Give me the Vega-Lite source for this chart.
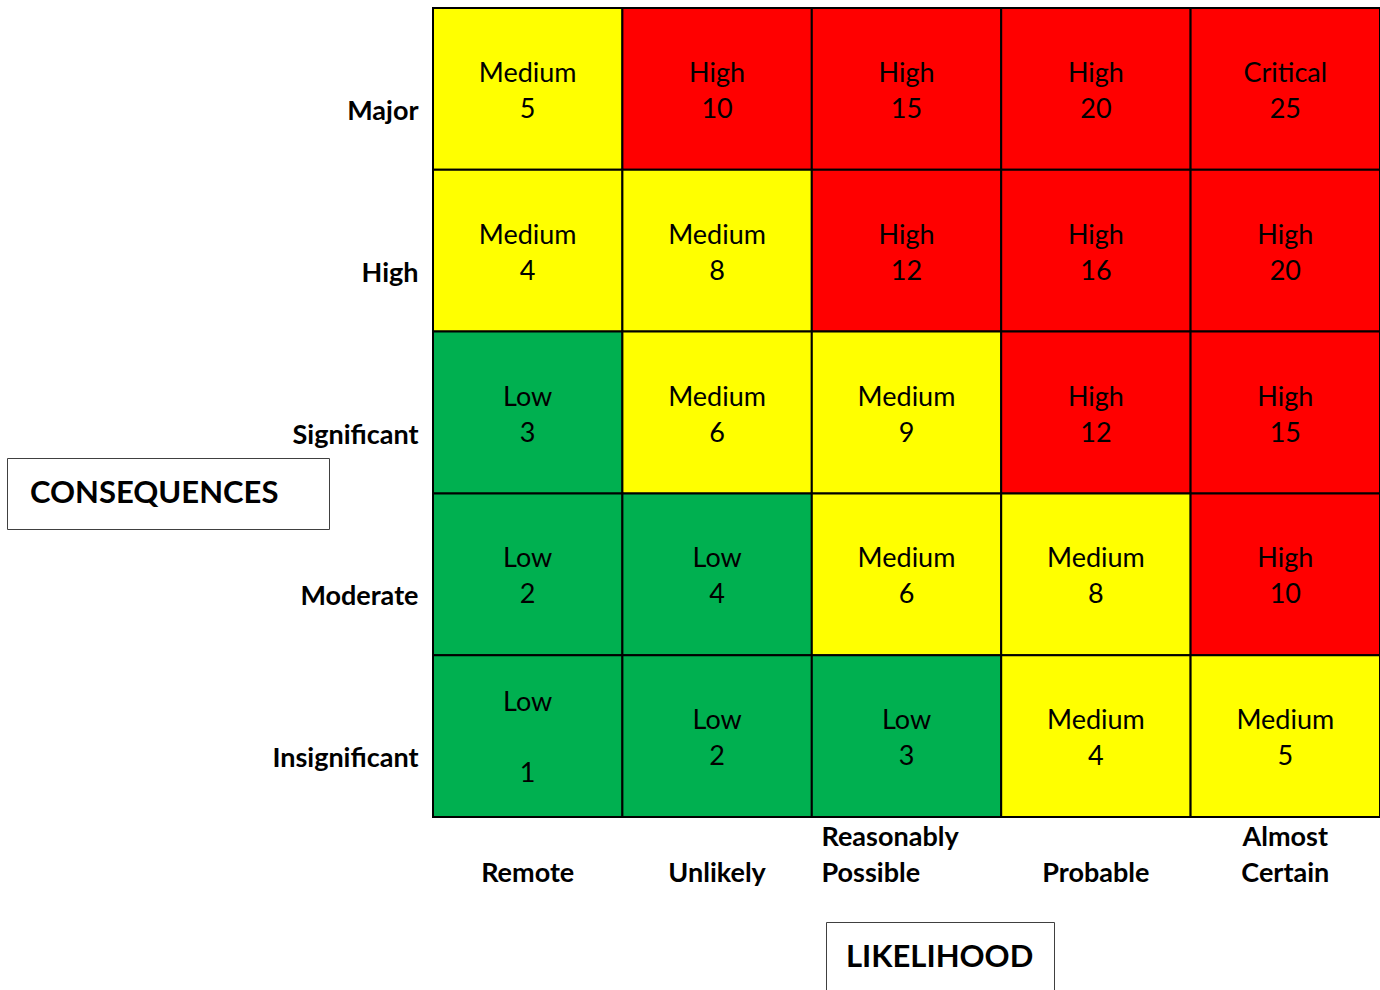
{
  "$schema": "https://vega.github.io/schema/vega-lite/v6.json",
  "width": 947,
  "height": 809,
  "autosize": {"type": "none"},
  "padding": {"left": 433, "top": 8, "right": 0, "bottom": 173},
  "background": "white",
  "config": {"view": {"stroke": null}, "font": "Lato"},
  "data": {
    "values": [
      {"likelihood": "Remote", "consequence": "Major", "level": "Medium", "label": "Medium\n5"},
      {"likelihood": "Unlikely", "consequence": "Major", "level": "High", "label": "High\n10"},
      {"likelihood": "Reasonably Possible", "consequence": "Major", "level": "High", "label": "High\n15"},
      {"likelihood": "Probable", "consequence": "Major", "level": "High", "label": "High\n20"},
      {"likelihood": "Almost Certain", "consequence": "Major", "level": "Critical", "label": "Critical\n25"},
      {"likelihood": "Remote", "consequence": "High", "level": "Medium", "label": "Medium\n4"},
      {"likelihood": "Unlikely", "consequence": "High", "level": "Medium", "label": "Medium\n8"},
      {"likelihood": "Reasonably Possible", "consequence": "High", "level": "High", "label": "High\n12"},
      {"likelihood": "Probable", "consequence": "High", "level": "High", "label": "High\n16"},
      {"likelihood": "Almost Certain", "consequence": "High", "level": "High", "label": "High\n20"},
      {"likelihood": "Remote", "consequence": "Significant", "level": "Low", "label": "Low\n3"},
      {"likelihood": "Unlikely", "consequence": "Significant", "level": "Medium", "label": "Medium\n6"},
      {"likelihood": "Reasonably Possible", "consequence": "Significant", "level": "Medium", "label": "Medium\n9"},
      {"likelihood": "Probable", "consequence": "Significant", "level": "High", "label": "High\n12"},
      {"likelihood": "Almost Certain", "consequence": "Significant", "level": "High", "label": "High\n15"},
      {"likelihood": "Remote", "consequence": "Moderate", "level": "Low", "label": "Low\n2"},
      {"likelihood": "Unlikely", "consequence": "Moderate", "level": "Low", "label": "Low\n4"},
      {"likelihood": "Reasonably Possible", "consequence": "Moderate", "level": "Medium", "label": "Medium\n6"},
      {"likelihood": "Probable", "consequence": "Moderate", "level": "Medium", "label": "Medium\n8"},
      {"likelihood": "Almost Certain", "consequence": "Moderate", "level": "High", "label": "High\n10"},
      {"likelihood": "Remote", "consequence": "Insignificant", "level": "Low", "label": "Low\n\n1"},
      {"likelihood": "Unlikely", "consequence": "Insignificant", "level": "Low", "label": "Low\n2"},
      {"likelihood": "Reasonably Possible", "consequence": "Insignificant", "level": "Low", "label": "Low\n3"},
      {"likelihood": "Probable", "consequence": "Insignificant", "level": "Medium", "label": "Medium\n4"},
      {"likelihood": "Almost Certain", "consequence": "Insignificant", "level": "Medium", "label": "Medium\n5"}
    ]
  },
  "encoding": {
    "x": {
      "field": "likelihood",
      "type": "nominal",
      "sort": ["Remote", "Unlikely", "Reasonably Possible", "Probable", "Almost Certain"],
      "scale": {"paddingInner": 0, "paddingOuter": 0},
      "axis": {
        "title": null,
        "orient": "bottom",
        "domain": false,
        "ticks": false,
        "tickSize": 0,
        "labelAngle": 0,
        "labelFont": "Lato",
        "labelFontSize": 27,
        "labelFontWeight": "bold",
        "labelColor": "black",
        "labelPadding": 28,
        "labelBaseline": "alphabetic",
        "labelLineHeight": 36,
        "labelLimit": 400,
        "labelExpr": "datum.value == 'Reasonably Possible' ? ['Reasonably', 'Possible'] : datum.value == 'Almost Certain' ? ['Almost', 'Certain'] : [' ', datum.value]",
        "labelAlign": {"condition": {"test": "datum.value == 'Reasonably Possible'", "value": "left"}, "value": "center"},
        "labelOffset": {"condition": {"test": "datum.value == 'Reasonably Possible'", "value": -85}, "value": 0}
      }
    },
    "y": {
      "field": "consequence",
      "type": "nominal",
      "sort": ["Major", "High", "Significant", "Moderate", "Insignificant"],
      "scale": {"paddingInner": 0, "paddingOuter": 0},
      "axis": {
        "title": null,
        "domain": false,
        "ticks": false,
        "tickSize": 0,
        "labelFont": "Lato",
        "labelFontSize": 27,
        "labelFontWeight": "bold",
        "labelColor": "black",
        "labelPadding": 15,
        "labelAlign": "right",
        "labelBaseline": "middle",
        "labelOffset": 23,
        "labelLimit": 400
      }
    }
  },
  "layer": [
    {
      "mark": {"type": "rect", "stroke": "black", "strokeWidth": 2},
      "encoding": {
        "color": {
          "field": "level",
          "type": "nominal",
          "scale": {"domain": ["Low", "Medium", "High", "Critical"], "range": ["#00B050", "#FFFF00", "#FF0000", "#FF0000"]},
          "legend": null
        }
      }
    },
    {
      "transform": [{"filter": "indexof(datum.label, '\\n\\n') < 0"}],
      "mark": {"type": "text", "font": "Lato", "fontSize": 27, "lineHeight": 36, "lineBreak": "\n", "baseline": "middle", "align": "center", "color": "black", "dy": -15},
      "encoding": {"text": {"field": "label"}}
    },
    {
      "transform": [{"filter": "indexof(datum.label, '\\n\\n') >= 0"}],
      "mark": {"type": "text", "font": "Lato", "fontSize": 27, "lineHeight": 71, "lineBreak": "\n", "baseline": "middle", "align": "center", "color": "black", "dy": -33},
      "encoding": {"text": {"field": "label"}}
    },
    {
      "mark": {"type": "point", "opacity": 0},
      "encoding": {
        "shape": {
          "datum": "CONSEQUENCES",
          "legend": {
            "title": "MM",
            "titleOrient": "right",
            "titleFontSize": 10,
            "titleOpacity": 0,
            "titlePadding": 12,
            "orient": "none",
            "legendX": -426,
            "legendY": 450,
            "strokeColor": "#404040",
            "fillColor": "white",
            "padding": 20,
            "labelFont": "Lato",
            "labelFontSize": 31,
            "labelFontWeight": "bold",
            "labelColor": "black",
            "labelLimit": 600,
            "labelOffset": -28,
            "symbolSize": 0,
            "symbolOpacity": 0,
            "symbolStrokeWidth": 0
          }
        }
      }
    },
    {
      "mark": {"type": "point", "opacity": 0},
      "encoding": {
        "stroke": {
          "datum": "LIKELIHOOD",
          "legend": {
            "title": null,
            "orient": "none",
            "legendX": 393,
            "legendY": 914,
            "strokeColor": "#404040",
            "fillColor": "white",
            "padding": 20,
            "labelFont": "Lato",
            "labelFontSize": 31,
            "labelFontWeight": "bold",
            "labelColor": "black",
            "labelLimit": 600,
            "labelOffset": -31,
            "symbolSize": 0,
            "symbolOpacity": 0,
            "symbolStrokeWidth": 0
          }
        }
      }
    }
  ]
}
